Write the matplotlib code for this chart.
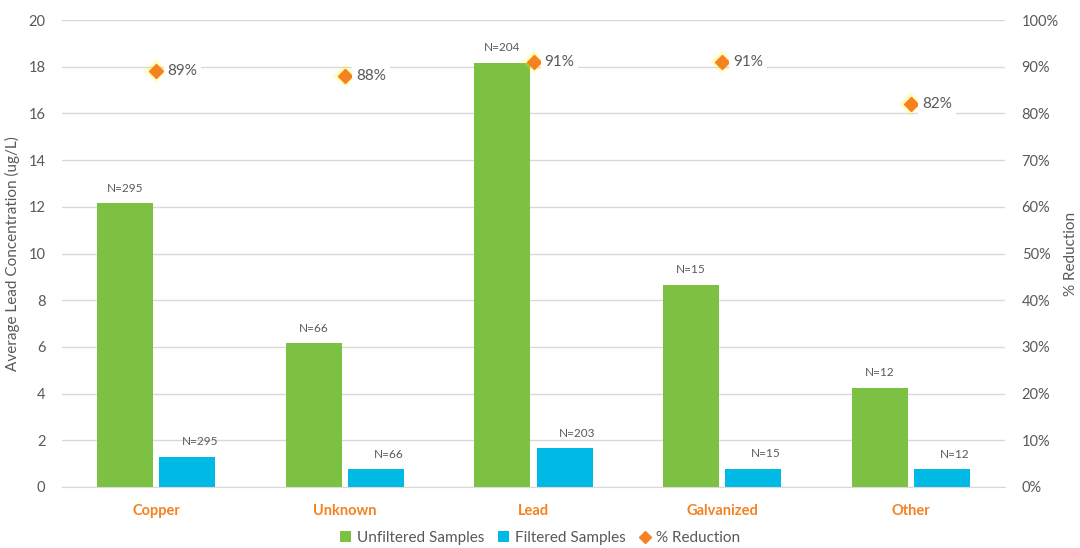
import matplotlib
matplotlib.use("Agg")
import matplotlib.pyplot as plt
import numpy as np
from matplotlib.lines import Line2D
from matplotlib.patches import Patch

plt.rcParams['font.family'] = ['Lato', 'DejaVu Sans']

categories = ["Copper", "Unknown", "Lead", "Galvanized", "Other"]
unfiltered = [12.15, 6.15, 18.15, 8.65, 4.25]
filtered = [1.3, 0.75, 1.65, 0.78, 0.75]
unfiltered_n = [295, 66, 204, 15, 12]
filtered_n = [295, 66, 203, 15, 12]
reduction = [89, 88, 91, 91, 82]

GREEN = "#7DC142"
BLUE = "#00B9E4"
ORANGE = "#F58220"
TEXT = "#595959"
GRID = "#D9D9D9"

fig = plt.figure(figsize=(10.8, 5.48), dpi=100)
ax = fig.add_axes([62 / 1080, 61 / 548, 943 / 1080, 467 / 548])
ax2 = ax.twinx()

x = np.arange(len(categories))
w = 0.297
off = 0.165

ax.bar(x - off, unfiltered, w, color=GREEN, zorder=2)
ax.bar(x + off, filtered, w, color=BLUE, zorder=2)

for xi, v, n in zip(x, unfiltered, unfiltered_n):
    ax.annotate(f"N={n}", (xi - off, v), xytext=(0, 7), textcoords="offset points",
                ha="center", va="bottom", fontsize=8.5, color=TEXT)
for xi, v, n in zip(x, filtered, filtered_n):
    ax.annotate(f"N={n}", (xi + off, v), xytext=(9, 7), textcoords="offset points",
                ha="center", va="bottom", fontsize=8.5, color=TEXT)

ax.set_xlim(-0.5, len(categories) - 0.5)
ax.set_ylim(0, 20)
ax.set_yticks(np.arange(0, 21, 2))
ax.grid(axis="y", color=GRID, linewidth=1, zorder=0)
ax.set_axisbelow(True)
for s in ax.spines.values():
    s.set_visible(False)
ax.spines["bottom"].set_visible(True)
ax.spines["bottom"].set_color(GRID)
ax.tick_params(axis="both", length=0, colors=TEXT, labelsize=10.5)
ax.tick_params(axis="y", pad=12)
ax.set_xticks(x)
ax.set_xticklabels(categories, color=ORANGE, fontweight="bold", fontsize=10.5)
ax.tick_params(axis="x", pad=12)
ax.set_ylabel("Average Lead Concentration (ug/L)", color=TEXT, fontsize=11, labelpad=6)

# Secondary axis: percent reduction markers
ax2.set_ylim(0, 100)
ax2.set_yticks(np.arange(0, 101, 10))
ax2.set_yticklabels([f"{t}%" for t in range(0, 101, 10)])
ax2.tick_params(axis="y", length=0, colors=TEXT, labelsize=10.5, pad=12)
for s in ax2.spines.values():
    s.set_visible(False)
ax2.set_ylabel("% Reduction", color=TEXT, fontsize=11, labelpad=4)

ax2.plot(x, reduction, linestyle="none", marker="D", markersize=13,
         color="#FFF200", alpha=0.1, markeredgewidth=0, zorder=3)
ax2.plot(x, reduction, linestyle="none", marker="D", markersize=10.5,
         color="#FFF200", alpha=0.25, markeredgewidth=0, zorder=3)
ax2.plot(x, reduction, linestyle="none", marker="D", markersize=7.5,
         color=ORANGE, zorder=4)
for xi, r in zip(x, reduction):
    ax2.annotate(f"{r}%", (xi, r), xytext=(8, 0), textcoords="offset points",
                 ha="left", va="center", fontsize=11, color=TEXT,
                 bbox=dict(boxstyle="square,pad=0.25", fc="white", ec="none"),
                 zorder=5)

handles = [
    Patch(facecolor=GREEN, label="Unfiltered Samples"),
    Patch(facecolor=BLUE, label="Filtered Samples"),
    Line2D([], [], linestyle="none", marker="D", markersize=6, color=ORANGE,
           label="% Reduction"),
]
leg = fig.legend(handles=handles, loc="center", bbox_to_anchor=(0.5, 10 / 548),
                 ncol=3, frameon=False, fontsize=11, handlelength=0.7,
                 handleheight=0.7, handletextpad=0.4, columnspacing=0.9)
for t in leg.get_texts():
    t.set_color(TEXT)

fig.savefig("out.png", dpi=100)
